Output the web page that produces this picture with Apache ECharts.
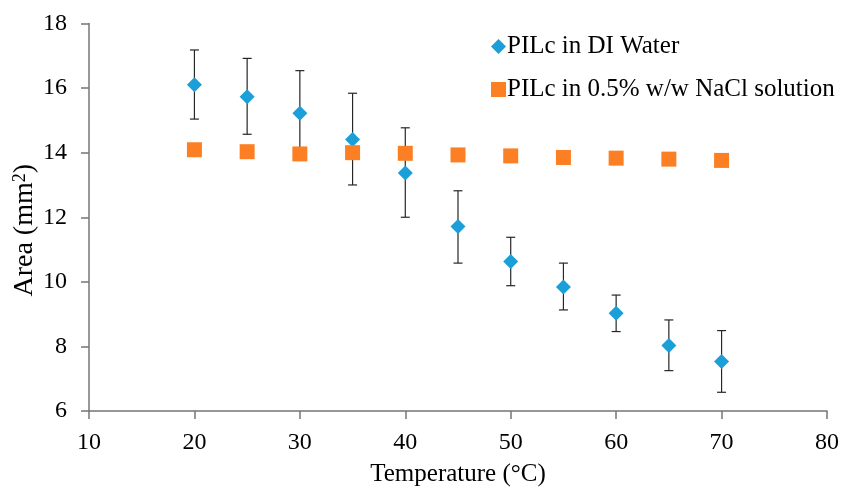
<!DOCTYPE html>
<html>
<head>
<meta charset="utf-8">
<script src="https://cdn.jsdelivr.net/npm/echarts@6/dist/echarts.min.js"></script>
<style>html,body{margin:0;padding:0;background:#fff;}#c{width:841px;height:488px;}</style>
</head>
<body>
<div id="c"></div>
<script>
var temperatures = [20, 25, 30, 35, 40, 45, 50, 55, 60, 65, 70];
var diWater = [16.1, 15.73, 15.22, 14.41, 13.37, 11.71, 10.63, 9.84, 9.03, 8.03, 7.53];
var diWaterHigh = [17.18, 16.92, 16.54, 15.84, 14.77, 12.82, 11.38, 10.58, 9.59, 8.82, 8.49];
var diWaterLow = [15.04, 14.57, 13.9, 13.0, 12.0, 10.58, 9.88, 9.13, 8.46, 7.25, 6.58];
var naCl = [14.09, 14.03, 13.96, 14.0, 13.98, 13.93, 13.9, 13.85, 13.83, 13.8, 13.76];
var xTicks = [10, 20, 30, 40, 50, 60, 70, 80];
var yTicks = [6, 8, 10, 12, 14, 16, 18];

var font = 'Liberation Serif';
var chart = echarts.init(document.getElementById('c'));

var errData = temperatures.map(function (t, i) { return [t, diWaterLow[i], diWaterHigh[i]]; });

chart.setOption({
  animation: false,
  backgroundColor: '#fff',
  grid: { left: 89, right: 14, top: 23.5, bottom: 77, outerBoundsMode: 'none', containLabel: false },
  legend: {
    orient: 'vertical',
    left: 486,
    top: 29,
    itemGap: 18,
    itemWidth: 15,
    itemHeight: 15,
    textStyle: { fontFamily: font, fontSize: 25, color: '#000', padding: [0, 0, 0, -4] },
    data: [
      { name: 'PILc in DI Water', icon: 'diamond' },
      { name: 'PILc in 0.5% w/w NaCl solution', icon: 'rect' }
    ]
  },
  xAxis: {
    type: 'value', min: xTicks[0], max: xTicks[xTicks.length - 1], interval: 10,
    name: 'Temperature (°C)', nameLocation: 'middle', nameGap: 51, nameMoveOverlap: false,
    nameTextStyle: { fontFamily: font, fontSize: 25, color: '#000' },
    axisLine: { show: true, lineStyle: { color: '#767676', width: 1.5 } },
    axisTick: { show: true, length: 8, lineStyle: { color: '#767676', width: 1.5 } },
    axisLabel: { fontFamily: font, fontSize: 24, color: '#000', margin: 20 },
    splitLine: { show: false }
  },
  yAxis: {
    type: 'value', min: yTicks[0], max: yTicks[yTicks.length - 1], interval: 2,
    name: 'Area (mm{sup|2})', nameLocation: 'middle', nameGap: 50, nameMoveOverlap: false,
    nameTextStyle: {
      fontFamily: font, fontSize: 28, color: '#000', padding: [0, 26, 0, 0],
      rich: { sup: { fontFamily: font, fontSize: 18, color: '#000', verticalAlign: 'top', padding: [0, 0, 8, 0] } }
    },
    axisLine: { show: true, lineStyle: { color: '#767676', width: 1.5 } },
    axisTick: { show: true, length: 8, lineStyle: { color: '#767676', width: 1.5 } },
    axisLabel: { fontFamily: font, fontSize: 24, color: '#000', margin: 22 },
    splitLine: { show: false }
  },
  series: [
    {
      name: 'errbars', type: 'custom', data: errData, z: 1,
      renderItem: function (params, api) {
        var x = api.value(0);
        var lo = api.coord([x, api.value(1)]);
        var hi = api.coord([x, api.value(2)]);
        var hw = 4.5;
        var st = { stroke: '#262626', lineWidth: 1.2 };
        return {
          type: 'group',
          children: [
            { type: 'line', shape: { x1: lo[0], y1: lo[1], x2: hi[0], y2: hi[1] }, style: st },
            { type: 'line', shape: { x1: lo[0] - hw, y1: lo[1], x2: lo[0] + hw, y2: lo[1] }, style: st },
            { type: 'line', shape: { x1: hi[0] - hw, y1: hi[1], x2: hi[0] + hw, y2: hi[1] }, style: st }
          ]
        };
      },
      silent: true
    },
    {
      name: 'PILc in DI Water', type: 'scatter', symbol: 'diamond', symbolSize: 15, z: 3,
      itemStyle: { color: '#1a9fd8', opacity: 1 },
      data: temperatures.map(function (t, i) { return [t, diWater[i]]; })
    },
    {
      name: 'PILc in 0.5% w/w NaCl solution', type: 'scatter', symbol: 'rect', symbolSize: 15, z: 4,
      itemStyle: { color: '#fd7f24', opacity: 1 },
      data: temperatures.map(function (t, i) { return [t, naCl[i]]; })
    }
  ]
});
</script>
</body>
</html>
